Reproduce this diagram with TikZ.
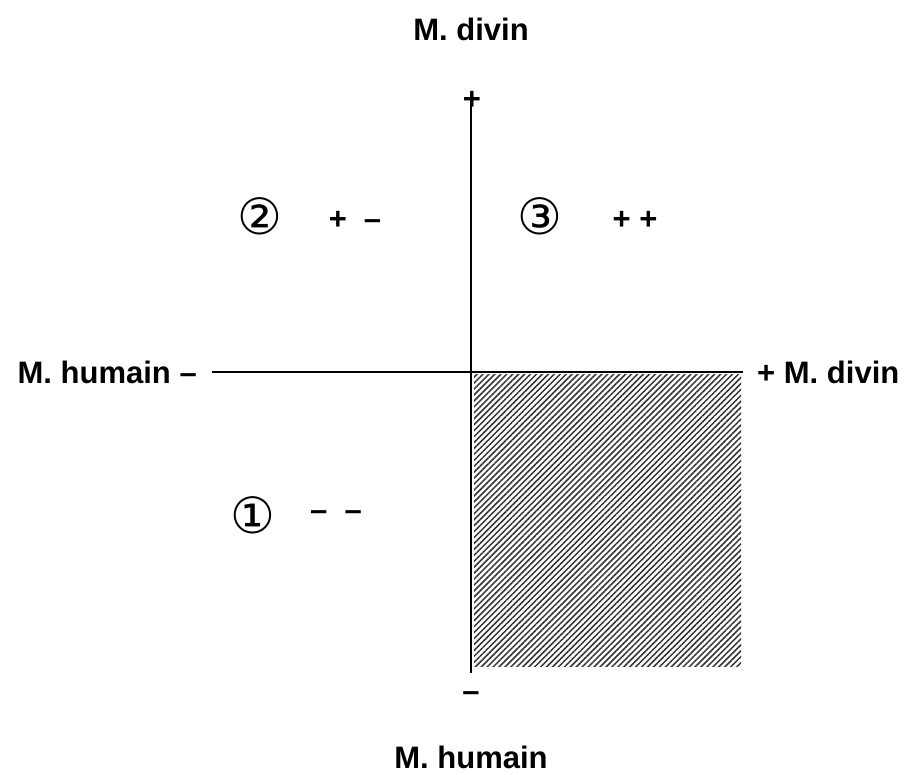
\documentclass[tikz,border=0pt]{standalone}
\usepackage{fontspec}
\setmainfont{Liberation Sans}
\newfontfamily\circfont{DejaVu Sans}
\usetikzlibrary{positioning, patterns.meta}

\begin{document}
\begin{tikzpicture}[
    x=1pt, y=-1pt,
    axis/.style={line width=2pt},
    hatch/.style={pattern={Lines[angle=45, distance=4.2pt, line width=1.5pt]},
                  pattern color=black!80},
    lbl/.style={font=\fontsize{31}{36}\selectfont\bfseries, inner sep=0pt},
    sgn/.style={font=\fontsize{31}{36}\selectfont\bfseries, inner sep=0pt},
    num/.style={font=\fontsize{50}{56}\selectfont\circfont, inner sep=0pt},
]
\useasboundingbox (0,0) rectangle (907,774);

% axes
\coordinate (o) at (471,372);
\coordinate (W) at (212,372);
\coordinate (E) at (743,372);
\coordinate (N) at (471,95);
\coordinate (S) at (471,673);

\fill[hatch] (474,374) rectangle (741,666);
\draw[axis] (W) -- (E);
\draw[axis] (N) -- (S);

% axis labels
\node[lbl] (nlab) at (471,29) {M. divin};
\node[lbl] (slab) at (471,757) {M. humain};
\node[lbl, left=15pt of W] (wlab) {M. humain --};
\node[lbl, right=14pt of E] (elab) {+ M. divin};
\node[sgn] (ntop) at (472,100) {+};
\node[sgn] (sbot) at (471,697) {--};

% quadrants
\node[num] (q2) at (260,216) {②};
\node[sgn] (s2) at (355,220) {+\hspace{0.55em}--};
\node[num] (q3) at (540,216) {③};
\node[sgn] (s3) at (635,220) {+ +};
\node[num] (q1) at (253,515) {①};
\node[sgn] (s1) at (336,516) {--\hspace{0.55em}--};

\end{tikzpicture}
\end{document}
